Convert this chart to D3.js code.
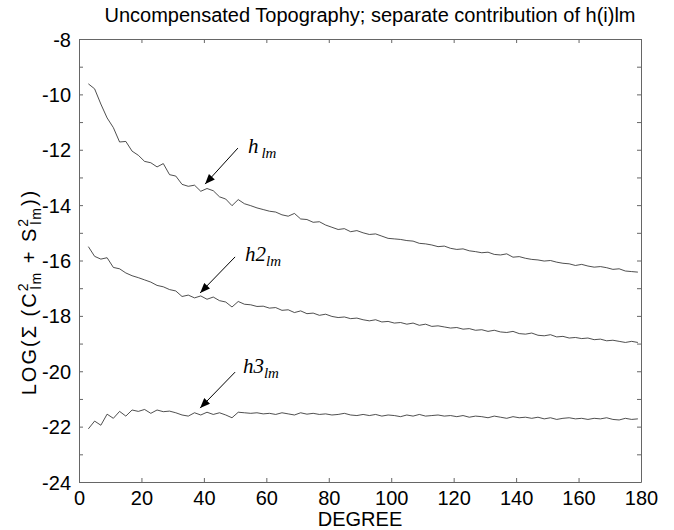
<!DOCTYPE html>
<html lang="en">
<head>
  <meta charset="UTF-8">
  <title>Uncompensated Topography</title>
  <style>
    body { margin: 0; background: #fff; }
    text { font-family: "Liberation Sans", Arial, sans-serif; fill: #000; }
  </style>
  <script src="https://d3js.org/d3.v7.min.js"></script>
</head>
<body>
  <div id="chart"></div>
  <script>
    // degrees (odd, 3..179)
    var degrees = d3.range(3, 180, 2);

    var h1 = [-9.62, -9.80, -10.35, -10.85, -11.20, -11.72, -11.70, -12.05, -12.20, -12.42,
      -12.47, -12.62, -12.50, -12.90, -12.95, -13.25, -13.32, -13.28, -13.50, -13.40,
      -13.48, -13.70, -13.78, -14.02, -13.80, -13.95, -14.02, -14.10, -14.16, -14.22,
      -14.25, -14.35, -14.40, -14.30, -14.50, -14.52, -14.62, -14.60, -14.72, -14.80,
      -14.88, -14.85, -14.96, -14.92, -15.00, -15.06, -15.04, -15.12, -15.20, -15.22,
      -15.24, -15.28, -15.30, -15.38, -15.40, -15.44, -15.50, -15.48, -15.56, -15.60,
      -15.58, -15.65, -15.68, -15.72, -15.70, -15.78, -15.80, -15.76, -15.88, -15.86,
      -15.92, -15.96, -15.98, -16.02, -16.00, -16.06, -16.10, -16.12, -16.18, -16.14,
      -16.20, -16.24, -16.22, -16.26, -16.32, -16.30, -16.38, -16.40, -16.42];

    var h2 = [-15.50, -15.85, -15.95, -15.90, -16.25, -16.30, -16.45, -16.55, -16.62, -16.70,
      -16.78, -16.90, -16.95, -17.05, -17.10, -17.30, -17.25, -17.35, -17.28, -17.40,
      -17.32, -17.45, -17.50, -17.68, -17.48, -17.58, -17.60, -17.66, -17.65, -17.72,
      -17.70, -17.80, -17.78, -17.88, -17.82, -17.92, -17.90, -17.98, -17.94, -18.02,
      -18.06, -18.04, -18.10, -18.08, -18.14, -18.18, -18.14, -18.22, -18.20, -18.26,
      -18.24, -18.30, -18.26, -18.34, -18.30, -18.38, -18.36, -18.40, -18.44, -18.42,
      -18.48, -18.46, -18.52, -18.50, -18.56, -18.52, -18.58, -18.60, -18.56, -18.64,
      -18.66, -18.62, -18.70, -18.72, -18.68, -18.76, -18.74, -18.80, -18.78, -18.82,
      -18.80, -18.86, -18.84, -18.90, -18.88, -18.92, -18.96, -18.92, -18.96];

    var h3 = [-22.08, -21.80, -21.95, -21.55, -21.70, -21.45, -21.62, -21.40, -21.45, -21.38,
      -21.52, -21.40, -21.46, -21.44, -21.50, -21.58, -21.62, -21.50, -21.58, -21.48,
      -21.56, -21.50, -21.58, -21.68, -21.48, -21.50, -21.52, -21.50, -21.54, -21.52,
      -21.56, -21.50, -21.54, -21.58, -21.50, -21.55, -21.52, -21.56, -21.54, -21.58,
      -21.56, -21.52, -21.58, -21.60, -21.56, -21.60, -21.56, -21.62, -21.58, -21.60,
      -21.64, -21.58, -21.62, -21.56, -21.62, -21.60, -21.58, -21.62, -21.60, -21.64,
      -21.60, -21.66, -21.62, -21.64, -21.68, -21.62, -21.66, -21.70, -21.64, -21.68,
      -21.66, -21.70, -21.66, -21.72, -21.68, -21.74, -21.70, -21.68, -21.72, -21.70,
      -21.74, -21.70, -21.72, -21.68, -21.74, -21.76, -21.70, -21.74, -21.72];

    var xTicks = [0, 20, 40, 60, 80, 100, 120, 140, 160, 180];
    var yTicks = [-8, -10, -12, -14, -16, -18, -20, -22, -24];

    // annotation: label, arrow tail [deg, val], arrow tip [deg, val], label anchor
    var annLabels = ["h", "h2", "h3"];
    var annFrom = [[50.9, -11.94], [50.0, -15.87], [50.0, -20.03]];
    var annTo = [[40.4, -13.24], [38.8, -17.17], [38.8, -21.33]];
    var annAt = [[54.1, -12.1], [53.2, -16.0], [52.5, -20.08]];

    var W = 674, H = 530;
    var margin = {top: 39, right: 33, bottom: 48, left: 79};
    var width = W - margin.left - margin.right;
    var height = H - margin.top - margin.bottom;

    var x = d3.scaleLinear().domain([0, 180]).range([0, width]);
    var y = d3.scaleLinear().domain([-24, -8]).range([height, 0]);

    var svg = d3.select('#chart').append('svg')
      .attr('width', W).attr('height', H);

    var g = svg.append('g').attr('transform', 'translate(' + margin.left + ',' + margin.top + ')');

    var axisColor = '#666';
    var tickLen = 4;
    var fontSans = '"Liberation Sans", Arial, sans-serif';
    var fontSerif = '"Liberation Serif", "DejaVu Serif", "Times New Roman", serif';

    // axes
    var xAxis = d3.axisBottom(x).tickValues(xTicks).tickSizeInner(-tickLen).tickSizeOuter(0).tickPadding(9);
    var gx = g.append('g').attr('transform', 'translate(0,' + height + ')').call(xAxis);
    var yAxis = d3.axisLeft(y).tickValues(d3.range(-24, -7, 1)).tickSizeInner(-tickLen).tickSizeOuter(0)
      .tickPadding(8).tickFormat(function(d) { return yTicks.indexOf(d) >= 0 ? d : ''; });
    var gy = g.append('g').call(yAxis);
    var gxt = g.append('g').call(d3.axisTop(x).tickValues(xTicks).tickSizeInner(-tickLen).tickSizeOuter(0).tickFormat(''));
    var gyr = g.append('g').attr('transform', 'translate(' + width + ',0)')
      .call(d3.axisRight(y).tickValues(d3.range(-24, -7, 1)).tickSizeInner(-tickLen).tickSizeOuter(0).tickFormat(''));

    [gx, gy, gxt, gyr].forEach(function(a) {
      a.select('.domain').attr('stroke', axisColor);
      a.selectAll('.tick line').attr('stroke', axisColor);
      a.selectAll('.tick text').style('font-size', '20px').attr('fill', '#000')
        .style('font-family', fontSans);
    });
    gx.selectAll('.tick text').attr('dy', '0.7em');
    gy.selectAll('.tick text').attr('dy', '0.35em');

    // lines
    var line = d3.line().x(function(d, i) { return x(degrees[i]); }).y(function(d) { return y(d); });
    [h1, h2, h3].forEach(function(s) {
      g.append('path').datum(s).attr('d', line)
        .attr('fill', 'none').attr('stroke', '#222').attr('stroke-width', 0.8);
    });

    // arrows
    svg.append('defs').append('marker')
      .attr('id', 'arr').attr('viewBox', '0 0 10 8').attr('refX', 10).attr('refY', 4)
      .attr('markerWidth', 11).attr('markerHeight', 8).attr('markerUnits', 'userSpaceOnUse')
      .attr('orient', 'auto')
      .append('path').attr('d', 'M0,0L10,4L0,8Z').attr('fill', '#000');

    annLabels.forEach(function(lab, i) {
      g.append('line')
        .attr('x1', x(annFrom[i][0])).attr('y1', y(annFrom[i][1]))
        .attr('x2', x(annTo[i][0])).attr('y2', y(annTo[i][1]))
        .attr('stroke', '#000').attr('stroke-width', 1).attr('marker-end', 'url(#arr)');
      var t = g.append('text')
        .attr('x', x(annAt[i][0])).attr('y', y(annAt[i][1]))
        .style('font-family', fontSerif).style('font-style', 'italic').style('font-size', '21px');
      t.append('tspan').text(lab);
      t.append('tspan').style('font-size', '15px').attr('dy', 5).attr('dx', lab == 'h' ? 3 : 0).text('lm');
    });

    // title
    svg.append('text').attr('x', 370).attr('y', 22)
      .attr('text-anchor', 'middle').style('font-size', '20px')
      .text('Uncompensated Topography; separate contribution of h(i)lm');

    // x label
    svg.append('text').attr('x', margin.left + width / 2).attr('y', 526)
      .attr('text-anchor', 'middle').style('font-size', '20px').text('DEGREE');

    // y label
    var yl = svg.append('text').attr('transform', 'translate(36,292) rotate(-90)')
      .attr('text-anchor', 'middle').style('font-size', '20px').style('letter-spacing', '2px');
    yl.append('tspan').text('LOG(\u03A3 (C');
    yl.append('tspan').style('font-size', '14px').attr('dy', -8).text('2');
    yl.append('tspan').style('font-size', '14px').attr('dx', -8).attr('dy', 13).text('lm');
    yl.append('tspan').attr('dy', -5).text(' + S');
    yl.append('tspan').style('font-size', '14px').attr('dy', -8).text('2');
    yl.append('tspan').style('font-size', '14px').attr('dx', -8).attr('dy', 13).text('lm');
    yl.append('tspan').attr('dy', -5).text('))');
  </script>
</body>
</html>
